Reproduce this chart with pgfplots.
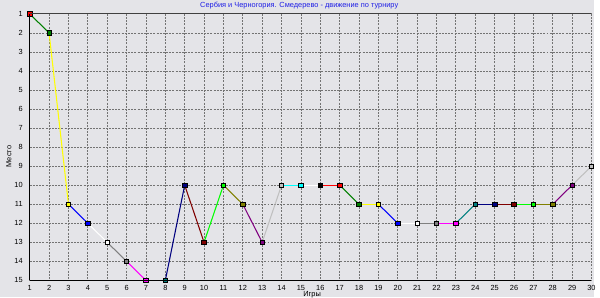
\documentclass[border=0pt]{standalone}
\usepackage{fontspec}
\setmainfont{Liberation Sans}
\usepackage{pgfplots}
\pgfplotsset{compat=1.18}
\usetikzlibrary{backgrounds}
\definecolor{bgc}{RGB}{228,228,232}
\definecolor{cR}{RGB}{255,0,0}
\definecolor{cG}{RGB}{0,128,0}
\definecolor{cY}{RGB}{255,255,0}
\definecolor{cB}{RGB}{0,0,255}
\definecolor{cW}{RGB}{255,255,255}
\definecolor{cGr}{RGB}{128,128,128}
\definecolor{cM}{RGB}{255,0,255}
\definecolor{cT}{RGB}{0,128,128}
\definecolor{cN}{RGB}{0,0,128}
\definecolor{cMa}{RGB}{128,0,0}
\definecolor{cL}{RGB}{0,255,0}
\definecolor{cO}{RGB}{128,128,0}
\definecolor{cP}{RGB}{128,0,128}
\definecolor{cS}{RGB}{192,192,192}
\definecolor{cC}{RGB}{0,255,255}
\definecolor{cK}{RGB}{0,0,0}
\definecolor{titleblue}{RGB}{30,30,230}
\newcommand{\seg}[5]{\addplot[#5, line width=0.8pt, no marks, forget plot] coordinates {(#1,#2) (#3,#4)};}
\begin{document}
\begin{tikzpicture}
\begin{axis}[
  name=a,
  scale only axis,
  width=425.25pt, height=201.75pt,
  xmin=1, xmax=30, ymin=1, ymax=15,
  y dir=reverse,
  xtick={1,...,30}, ytick={1,...,15},
  axis line style={draw=none},
  major tick length=0pt,
  grid=major,
  major grid style={draw=gray!90!black, line width=0.6pt, dash pattern=on 1.5pt off 0.9pt},
  tick label style={font=\fontsize{5.6}{6.5}\selectfont},
  /pgf/number format/assume math mode=true,
  xticklabel style={yshift=-0.4pt},
  yticklabel style={xshift=-1.8pt},
  clip=false,
]
\seg{1}{1}{2}{2}{cG}
\seg{2}{2}{3}{11}{cY}
\seg{3}{11}{4}{12}{cB}
\seg{4}{12}{5}{13}{cW}
\seg{5}{13}{6}{14}{cGr}
\seg{6}{14}{7}{15}{cM}
\seg{7}{15}{8}{15}{cT}
\seg{8}{15}{9}{10}{cN}
\seg{9}{10}{10}{13}{cMa}
\seg{10}{13}{11}{10}{cL}
\seg{11}{10}{12}{11}{cO}
\seg{12}{11}{13}{13}{cP}
\seg{13}{13}{14}{10}{cS}
\seg{14}{10}{15}{10}{cC}
\seg{15}{10}{16}{10}{cW}
\seg{16}{10}{17}{10}{cR}
\seg{17}{10}{18}{11}{cG}
\seg{18}{11}{19}{11}{cY}
\seg{19}{11}{20}{12}{cB}
\seg{20}{12}{21}{12}{cW}
\seg{21}{12}{22}{12}{cGr}
\seg{22}{12}{23}{12}{cM}
\seg{23}{12}{24}{11}{cT}
\seg{24}{11}{25}{11}{cN}
\seg{25}{11}{26}{11}{cMa}
\seg{26}{11}{27}{11}{cL}
\seg{27}{11}{28}{11}{cO}
\seg{28}{11}{29}{10}{cP}
\seg{29}{10}{30}{9}{cS}
\addplot[scatter, only marks, scatter src=explicit symbolic,
  mark=square*, mark size=1.7pt, draw=black, line width=0.5pt,
  scatter/classes={
    R={mark=square*,draw=black,fill=cR},
    G={mark=square*,draw=black,fill=cG},
    Y={mark=square*,draw=black,fill=cY},
    B={mark=square*,draw=black,fill=cB},
    W={mark=square*,draw=black,fill=cW},
    Gr={mark=square*,draw=black,fill=cGr},
    M={mark=square*,draw=black,fill=cM},
    T={mark=square*,draw=black,fill=cT},
    N={mark=square*,draw=black,fill=cN},
    Ma={mark=square*,draw=black,fill=cMa},
    L={mark=square*,draw=black,fill=cL},
    O={mark=square*,draw=black,fill=cO},
    P={mark=square*,draw=black,fill=cP},
    S={mark=square*,draw=black,fill=cS},
    C={mark=square*,draw=black,fill=cC},
    K={mark=square*,draw=black,fill=cK}}]
table[meta=c] {
x y c
1 1 R
2 2 G
3 11 Y
4 12 B
5 13 W
6 14 Gr
7 15 M
8 15 T
9 10 N
10 13 Ma
11 10 L
12 11 O
13 13 P
14 10 S
15 10 C
16 10 K
17 10 R
18 11 G
19 11 Y
20 12 B
21 12 W
22 12 Gr
23 12 M
24 11 T
25 11 N
26 11 Ma
27 11 L
28 11 O
29 10 P
30 9 S
};
\end{axis}
\draw[black, line width=1.1pt] (a.south west) -- (a.north west);
\draw[black, line width=1.1pt] (a.south west) -- (a.south east);
\draw[black!75, line width=0.8pt] (a.north west) -- (a.north east);
\path (a.north west) ++(-22.5pt,10.5pt) coordinate (TL);
\path (a.south east) ++(2.25pt,-12.75pt) coordinate (BR);
\begin{scope}[on background layer]
\fill[bgc] (TL) rectangle (BR);
\end{scope}
\begin{scope}[shift={(TL)}, x=0.75pt, y=-0.75pt]
\node[font=\fontsize{5.6}{6.5}\selectfont, text=titleblue, inner sep=0pt] at (302,6) {Сербия и Черногория. Смедерево - движение по турниру};
\node[font=\fontsize{5.6}{6.5}\selectfont, inner sep=0pt] at (315,297) {Игры};
\node[font=\fontsize{5.6}{6.5}\selectfont, inner sep=0pt, rotate=90] at (9,158) {Место};
\end{scope}
\useasboundingbox (TL) rectangle (BR);
\end{tikzpicture}
\end{document}
